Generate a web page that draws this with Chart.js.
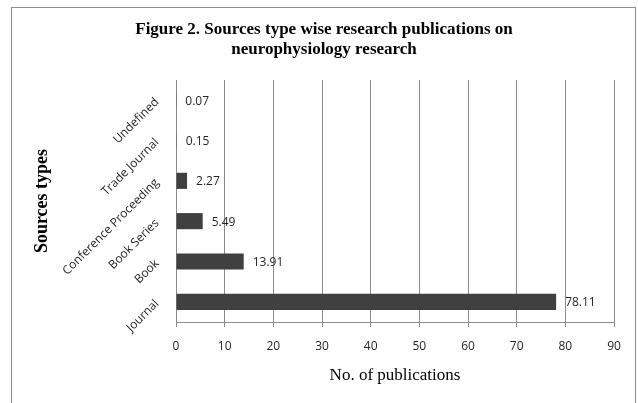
<!DOCTYPE html>
<html>
<head>
<meta charset="utf-8">
<title>Sources type wise research publications</title>
<script src="https://cdn.jsdelivr.net/npm/chart.js@4/dist/chart.umd.min.js"></script>
<style>
  html, body { margin: 0; padding: 0; background: #fff; }
  #wrap { position: relative; width: 638px; height: 403px; overflow: hidden; }
  #wrap canvas { position: absolute; left: 0; top: 0; }
  #frame { position: absolute; left: 11px; top: 7px; width: 623px; height: 430px;
           border: 1.5px solid #8c8c8c; pointer-events: none; }
</style>
</head>
<body>
<div id="wrap">
  <canvas id="chart" width="638" height="403"></canvas>
  <div id="frame"></div>
</div>
<script>
// Source types, listed from the bottom of the axis upwards
const sourceTypes = ['Journal', 'Book', 'Book Series', 'Conference Proceeding', 'Trade Journal', 'Undefined'];
// Share of publications per source type (%)
const publicationShares = [78.11, 13.91, 5.49, 2.27, 0.15, 0.07];
// Value axis ticks
const axisMin = 0;
const axisMax = 90;
const axisStep = 10;

const chartTitle = ['Figure 2. Sources type wise research publications on', 'neurophysiology research'];
const xAxisTitle = 'No. of publications';
const yAxisTitle = 'Sources types';

const serif = '"Liberation Serif", "Times New Roman", serif';
const sans = '"Open Sans", "Liberation Sans", sans-serif';
const gridGrey = '#8c8c8c';
const textDark = '#262626';

// Writes each bar's value just past its end
const valueLabels = {
  id: 'valueLabels',
  afterDatasetsDraw(chart) {
    const ctx = chart.ctx;
    const meta = chart.getDatasetMeta(0);
    ctx.save();
    ctx.font = '12px ' + sans;
    ctx.fillStyle = textDark;
    ctx.textAlign = 'left';
    ctx.textBaseline = 'middle';
    meta.data.forEach((bar, i) => {
      ctx.fillText(publicationShares[i].toFixed(2), bar.x + 9, bar.y + 1);
    });
    ctx.restore();
  }
};

function draw() {
  new Chart(document.getElementById('chart'), {
    type: 'bar',
    data: {
      labels: sourceTypes,
      datasets: [{
        data: publicationShares,
        backgroundColor: '#404040',
        borderWidth: 0,
        barPercentage: 0.4,
        categoryPercentage: 1.0
      }]
    },
    options: {
      indexAxis: 'y',
      responsive: false,
      animation: false,
      devicePixelRatio: 1,
      layout: { padding: { left: 34, right: 24, top: 0, bottom: 10 } },
      plugins: {
        legend: { display: false },
        tooltip: { enabled: false },
        title: {
          display: true,
          text: chartTitle,
          color: '#000',
          font: { family: serif, size: 17, weight: 'bold', lineHeight: 1.15 },
          padding: { top: 20.2, bottom: 20.7 }
        }
      },
      scales: {
        x: {
          min: axisMin,
          max: axisMax,
          ticks: {
            stepSize: axisStep,
            color: textDark,
            font: { family: sans, size: 12 },
            padding: 12.5,
            maxRotation: 0
          },
          grid: { color: gridGrey, lineWidth: 1, tickLength: 5, drawTicks: true },
          border: { color: gridGrey, width: 1 },
          title: {
            display: true,
            text: xAxisTitle,
            color: '#000',
            font: { family: serif, size: 17 },
            padding: { top: 6, bottom: 6.8 }
          },
          afterFit(scale) { scale.height = 71; }
        },
        y: {
          reverse: true,
          grid: { display: false, drawTicks: false },
          border: { display: true, color: gridGrey, width: 1 },
          ticks: {
            minRotation: 45,
            maxRotation: 45,
            padding: 19,
            color: textDark,
            font: { family: sans, size: 12 }
          },
          title: {
            display: true,
            text: yAxisTitle,
            color: '#000',
            font: { family: serif, size: 18, weight: 'bold' },
            padding: { top: -2.6, bottom: 0 }
          },
          afterFit(scale) { scale.width = 142; }
        }
      }
    },
    plugins: [valueLabels]
  });
}

Promise.all([
  document.fonts.load('12px "Open Sans"'),
  document.fonts.load('bold 17px "Liberation Serif"'),
  document.fonts.load('17px "Liberation Serif"')
]).then(draw, draw);
</script>
</body>
</html>
